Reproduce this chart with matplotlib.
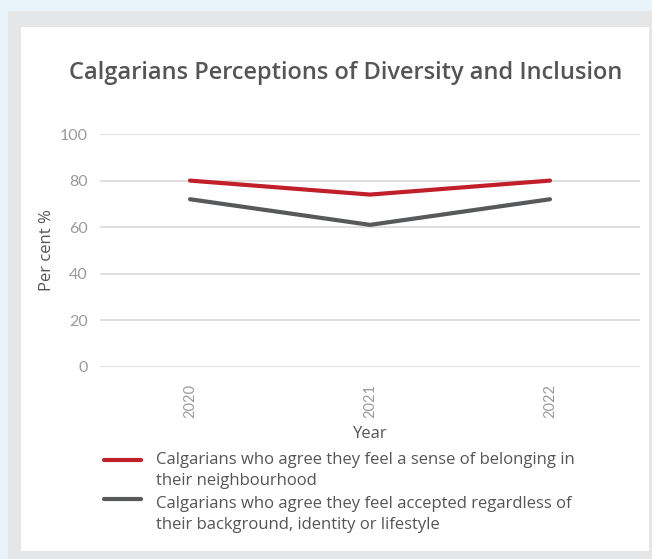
import matplotlib
matplotlib.use("Agg")
import matplotlib.pyplot as plt
from matplotlib.patches import Rectangle
from matplotlib.lines import Line2D

years = ["2020", "2021", "2022"]
belonging = [80, 74, 80]
accepted = [72, 61, 72]
series_labels = [
    "Calgarians who agree they feel a sense of belonging in\ntheir neighbourhood",
    "Calgarians who agree they feel accepted regardless of\ntheir background, identity or lifestyle",
]
series_colors = ["#c1202b", "#58595b"]
yticks = [0, 20, 40, 60, 80, 100]

plt.rcParams["font.family"] = ["Open Sans", "DejaVu Sans"]

W, H = 652, 559
fig = plt.figure(figsize=(W / 100, H / 100), dpi=100)
fig.patch.set_facecolor("#e8f3fa")


def px_rect(x0, y0, x1, y1, color, z):
    # rectangle given in pixel coords from top-left
    fig.patches.append(Rectangle((x0 / W, 1 - y1 / H), (x1 - x0) / W, (y1 - y0) / H,
                                 transform=fig.transFigure, facecolor=color,
                                 edgecolor="none", zorder=z))


px_rect(8, 11, W, H, "#e5e6e8", -2)
px_rect(21, 27, 649, 551, "#ffffff", -1)

ax = fig.add_axes([100 / W, 1 - 367 / H, 540 / W, 233 / H])
ax.set_zorder(5)
ax.set_facecolor("none")
x = range(len(years))
ax.plot(x, belonging, color=series_colors[0], lw=3, solid_capstyle="round", zorder=3)
ax.plot(x, accepted, color=series_colors[1], lw=3, solid_capstyle="round", zorder=3)

ax.set_xlim(-0.5, len(years) - 0.5)
ax.set_ylim(0, 100)
ax.set_yticks(yticks)
ax.set_xticks(list(x))
ax.set_xticklabels(years, rotation=90, color="#9a9a9a", fontsize=10.5, family="Lato")
ax.set_yticklabels([str(v) for v in yticks], color="#9a9a9a", fontsize=11.5, family="Lato")
ax.tick_params(length=0, pad=9)
ax.tick_params(axis="x", pad=12)
ax.grid(axis="y", color="#d9d9d9", lw=1.2)
ax.set_axisbelow(True)
for s in ax.spines.values():
    s.set_visible(False)

ax.set_ylabel("Per cent %", color="#555555", fontsize=12, labelpad=3)
ax.set_xlabel("Year", color="#555555", fontsize=12, labelpad=6)

fig.text(346 / W, 1 - 73 / H, "Calgarians Perceptions of Diversity and Inclusion",
         ha="center", va="center", fontsize=17, fontweight="semibold", color="#555555")

# legend drawn by hand
for i, (lab, col) in enumerate(zip(series_labels, series_colors)):
    ly = 460 + i * 39
    fig.lines.append(Line2D([104 / W, 141 / W], [1 - ly / H, 1 - ly / H],
                            transform=fig.transFigure, color=col, lw=3,
                            solid_capstyle="round"))
    fig.text(156 / W, 1 - (452 + i * 44) / H, lab, ha="left", va="top", fontsize=12,
             color="#555555", linespacing=1.42)

fig.savefig("out.png", dpi=100)
